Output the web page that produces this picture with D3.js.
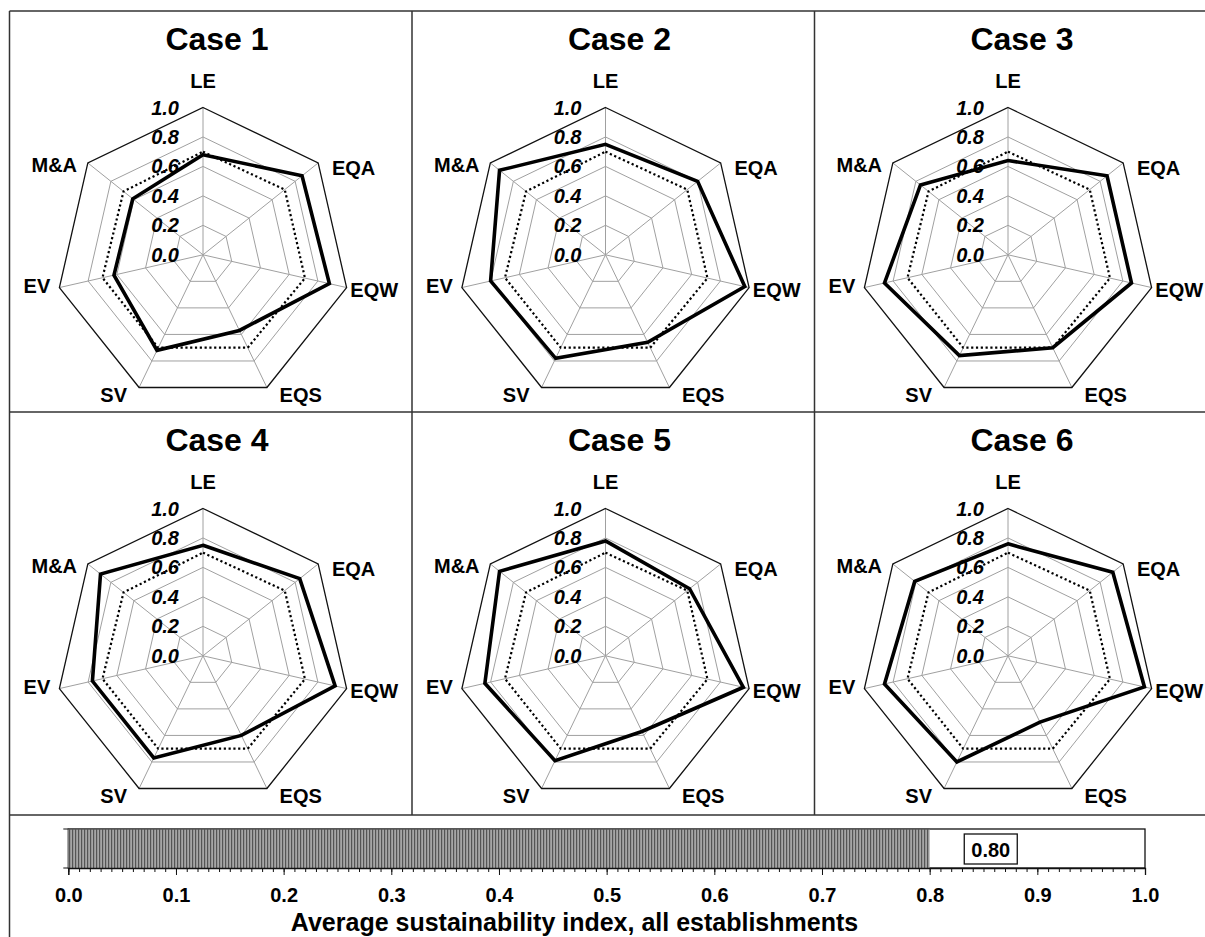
<!DOCTYPE html>
<html>
<head>
<meta charset="utf-8">
<script src="https://cdn.jsdelivr.net/npm/d3@7"></script>
<style>
  html, body { margin: 0; padding: 0; background: #fff; }
  svg { display: block; font-family: "Liberation Sans", Arial, sans-serif; }
</style>
</head>
<body>
<svg id="chart" width="1205" height="937"></svg>
<script>
// ---------------- DATA ----------------
const caseTitles = ["Case 1", "Case 2", "Case 3", "Case 4", "Case 5", "Case 6"];
const axisNames = ["LE", "EQA", "EQW", "EQS", "SV", "EV", "M&A"];
const case1 = [0.68, 0.86, 0.88, 0.57, 0.72, 0.62, 0.61];
const case2 = [0.75, 0.80, 0.97, 0.66, 0.78, 0.80, 0.92];
const case3 = [0.64, 0.86, 0.86, 0.70, 0.76, 0.86, 0.76];
const case4 = [0.75, 0.84, 0.92, 0.60, 0.77, 0.77, 0.89];
const case5 = [0.78, 0.73, 0.96, 0.57, 0.79, 0.84, 0.92];
const case6 = [0.76, 0.91, 0.95, 0.50, 0.80, 0.86, 0.81];
const referenceLine = [0.70, 0.71, 0.71, 0.70, 0.70, 0.70, 0.69];
const gridLevels = [0.2, 0.4, 0.6, 0.8, 1.0];
const radialTickValues = [0.0, 0.2, 0.4, 0.6, 0.8, 1.0];
const radialTickLabels = ["0.0", "0.2", "0.4", "0.6", "0.8", "1.0"];
const overallIndex = 0.80;
const overallLabel = "0.80";
const barMajorTicks = [0, 0.1, 0.2, 0.3, 0.4, 0.5, 0.6, 0.7, 0.8, 0.9, 1.0];
const barTickLabels = ["0.0", "0.1", "0.2", "0.3", "0.4", "0.5", "0.6", "0.7", "0.8", "0.9", "1.0"];
const barTitle = "Average sustainability index, all establishments";

const caseSeries = [case1, case2, case3, case4, case5, case6];

// ---------------- LAYOUT ----------------
const svg = d3.select("#chart");
const colX = [9.5, 412, 814.5];
const rowY = [11, 412];
const R = 147.3;
const rScale = d3.scaleLinear().domain([0, 1]).range([0, R]);
const n = axisNames.length;
const angle = i => i * 2 * Math.PI / n;

// label offsets from the 1.0 vertex: [dx, dy, anchor]
const labelOffsets = [
  [0, -27, "middle"], [13.8, 5.1, "start"], [3.7, 2.2, "start"], [12.7, 7.3, "start"],
  [-12.1, 7.3, "end"], [-9.1, -1.1, "end"], [-10.8, 2.5, "end"]
];

const defs = svg.append("defs");
const pat = defs.append("pattern").attr("id", "stripes")
  .attr("width", 3).attr("height", 10).attr("patternUnits", "userSpaceOnUse");
pat.append("rect").attr("width", 3).attr("height", 10).attr("fill", "#a6a6a6");
pat.append("rect").attr("width", 1.2).attr("height", 10).attr("fill", "#555");

const radial = d3.lineRadial()
  .angle((d, i) => angle(i))
  .radius(d => rScale(d))
  .curve(d3.curveLinearClosed);

caseSeries.forEach((series, k) => {
  const col = k % 3, row = Math.floor(k / 3);
  const cx = colX[col] + 193.5, cy = rowY[row] + 243.8;
  const g = svg.append("g").attr("transform", `translate(${cx},${cy})`);

  // title
  svg.append("text")
    .attr("x", cx + 14).attr("y", rowY[row] + 39)
    .attr("text-anchor", "middle").attr("font-weight", "bold")
    .attr("font-size", 32).attr("fill", "#000").text(caseTitles[k]);

  // spokes
  axisNames.forEach((a, i) => {
    g.append("line")
      .attr("x1", 0).attr("y1", 0)
      .attr("x2", rScale(1) * Math.sin(angle(i)))
      .attr("y2", -rScale(1) * Math.cos(angle(i)))
      .attr("stroke", "#a0a0a0").attr("stroke-width", 1);
  });
  // grid polygons
  gridLevels.forEach(lv => {
    g.append("path")
      .attr("d", radial(axisNames.map(() => lv)))
      .attr("fill", "none")
      .attr("stroke", lv === 1 ? "#111" : "#a0a0a0")
      .attr("stroke-width", lv === 1 ? 1.3 : 1);
  });

  // radial tick labels
  radialTickValues.forEach((v, i) => {
    g.append("text")
      .attr("x", -24).attr("y", -rScale(v)).attr("dy", "0.35em")
      .attr("text-anchor", "end").attr("font-weight", "bold").attr("font-style", "italic")
      .attr("font-size", 20).attr("fill", "#000").text(radialTickLabels[i]);
  });

  // reference dotted line
  g.append("path")
    .attr("d", radial(referenceLine))
    .attr("fill", "none").attr("stroke", "#000")
    .attr("stroke-width", 2.2).attr("stroke-dasharray", "2.2,2.6");

  // case line
  g.append("path")
    .attr("d", radial(series))
    .attr("fill", "none").attr("stroke", "#000")
    .attr("stroke-width", 3.6).attr("stroke-linejoin", "miter");

  // axis names
  axisNames.forEach((a, i) => {
    const vx = rScale(1) * Math.sin(angle(i)), vy = -rScale(1) * Math.cos(angle(i));
    const o = labelOffsets[i];
    g.append("text")
      .attr("x", vx + o[0]).attr("y", vy + o[1]).attr("dy", "0.35em")
      .attr("text-anchor", o[2]).attr("font-weight", "bold")
      .attr("font-size", 20).attr("fill", "#000").text(a);
  });
});

// ---------------- BOTTOM BAR ----------------
const x = d3.scaleLinear().domain([0, 1]).range([68.3, 1145]);
const barTop = 829, barBottom = 868;

svg.append("rect")
  .attr("x", x(0)).attr("y", barTop)
  .attr("width", x(1) - x(0)).attr("height", barBottom - barTop)
  .attr("fill", "#fff").attr("stroke", "#111").attr("stroke-width", 1.3);
svg.append("rect")
  .attr("x", x(0)).attr("y", barTop)
  .attr("width", x(overallIndex) - x(0)).attr("height", barBottom - barTop)
  .attr("fill", "url(#stripes)");
svg.append("line").attr("x1", x(0)).attr("x2", x(overallIndex))
  .attr("y1", barTop).attr("y2", barTop).attr("stroke", "#555").attr("stroke-width", 1.3);

// left ticks of the bar
[barTop, barBottom].forEach(yy => {
  svg.append("line").attr("x1", x(0) - 5).attr("x2", x(0)).attr("y1", yy).attr("y2", yy)
    .attr("stroke", "#111").attr("stroke-width", 1);
});

const minorTicks = d3.range(0, 101).map(i => i / 100);
const minorAxis = d3.axisBottom(x).tickValues(minorTicks).tickSize(4).tickFormat("");
const gMinor = svg.append("g").attr("transform", `translate(0,${barBottom})`).call(minorAxis);
gMinor.select(".domain").remove();
gMinor.selectAll("line").attr("stroke", "#111");

const majorAxis = d3.axisBottom(x).tickValues(barMajorTicks).tickSize(7).tickPadding(13)
  .tickFormat((d, i) => barTickLabels[i]);
const gMajor = svg.append("g").attr("transform", `translate(0,${barBottom})`).call(majorAxis);
gMajor.select(".domain").attr("stroke", "#111").attr("stroke-width", 1.3);
gMajor.selectAll("line").attr("stroke", "#111");
gMajor.selectAll("text").attr("font-size", 20).attr("font-weight", "bold")
  .attr("fill", "#000").attr("font-family", "Liberation Sans, Arial, sans-serif");

// value label box
const lbX = x(overallIndex) + 34.6;
svg.append("rect").attr("x", lbX).attr("y", 834).attr("width", 53).attr("height", 30)
  .attr("fill", "#fff").attr("stroke", "#111").attr("stroke-width", 1.3);
svg.append("text").attr("x", lbX + 26.5).attr("y", 856.5)
  .attr("text-anchor", "middle").attr("font-weight", "bold").attr("font-size", 20)
  .attr("fill", "#000").text(overallLabel);

svg.append("text").attr("x", 574.5).attr("y", 931)
  .attr("text-anchor", "middle").attr("font-weight", "bold").attr("font-size", 25)
  .attr("fill", "#000").text(barTitle);

// ---------------- FRAME ----------------
const frame = svg.append("g").attr("stroke", "#333").attr("stroke-width", 1.5);
[11, 412, 815].forEach(yy => frame.append("line").attr("x1", 9.5).attr("x2", 1205).attr("y1", yy).attr("y2", yy));
frame.append("line").attr("x1", 9.5).attr("x2", 9.5).attr("y1", 11).attr("y2", 937);
[412, 814.5].forEach(xx => frame.append("line").attr("x1", xx).attr("x2", xx).attr("y1", 11).attr("y2", 815));
</script>
</body>
</html>
